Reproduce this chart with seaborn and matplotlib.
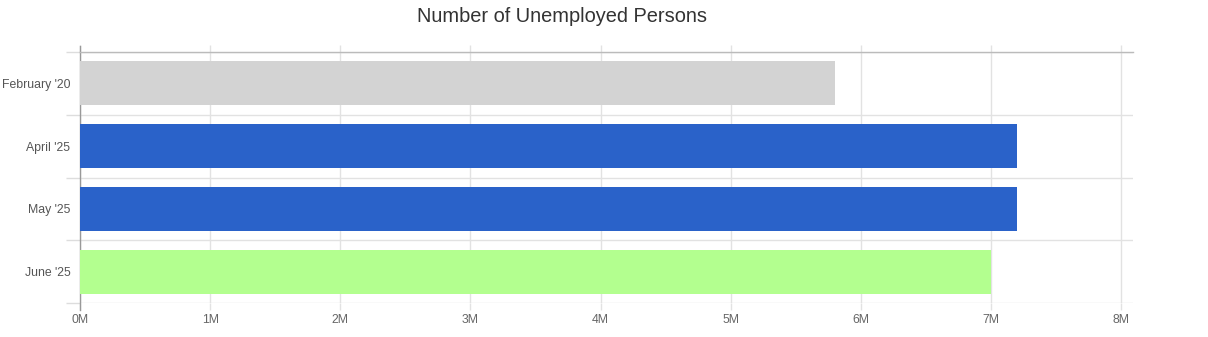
import matplotlib
matplotlib.use("Agg")
import matplotlib.pyplot as plt
import matplotlib.ticker as mticker
import seaborn as sns
import pandas as pd

categories = ["February '20", "April '25", "May '25", "June '25"]
unemployed = [5.80e6, 7.20e6, 7.20e6, 7.00e6]
bar_colors = ["#d3d3d3", "#2a62c9", "#2a62c9", "#b3ff8f"]
x_ticks = [0, 1e6, 2e6, 3e6, 4e6, 5e6, 6e6, 7e6, 8e6]

sns.set_theme(style="white")
plt.rcParams["font.family"] = ["Liberation Sans", "DejaVu Sans"]

df = pd.DataFrame({"period": categories, "value": unemployed})

fig = plt.figure(figsize=(12.08, 3.37), dpi=100)
ax = fig.add_axes([80 / 1208, 1 - 303 / 337, (1133 - 80) / 1208, (303 - 52) / 337])

sns.barplot(data=df, y="period", x="value", hue="period", order=categories,
            palette=dict(zip(categories, bar_colors)), width=0.70,
            legend=False, ax=ax, saturation=1, linewidth=0, zorder=3)

ax.set_xlim(0, 8.09e6)
ax.set_ylim(3.5, -0.5)
ax.set_xticks(x_ticks)
ax.xaxis.set_major_formatter(mticker.FuncFormatter(lambda v, p: f"{v/1e6:.0f}M"))
ax.set_yticks(range(len(categories)))
ax.set_yticklabels(categories)
ax.set_yticks([-0.5, 0.5, 1.5, 2.5, 3.5], minor=True)

ax.grid(True, axis="x", which="major", color="#e2e2e2", linewidth=1, zorder=0)
ax.grid(True, axis="y", which="minor", color="#e2e2e2", linewidth=1, zorder=0)
ax.grid(False, axis="y", which="major")

ax.tick_params(axis="x", which="major", top=True, bottom=True, direction="out",
               length=5, width=1, color="#e2e2e2", labelsize=8.8, labelcolor="#666666", pad=3)
ax.tick_params(axis="y", which="major", length=0, labelsize=8.8, labelcolor="#555555", pad=7)
ax.tick_params(axis="y", which="minor", left=True, direction="out",
               length=10, width=1, color="#dddddd")

for side in ["right", "bottom"]:
    ax.spines[side].set_visible(False)
ax.spines["top"].set_color("#bbbbbb")
ax.spines["left"].set_color("#999999")
ax.spines["top"].set_linewidth(1)
ax.spines["left"].set_linewidth(1)
ax.spines["left"].set_bounds(3.61, -0.6)

ax.set_xlabel("")
ax.set_ylabel("")

fig.text(0.465, 1 - 17 / 337, "Number of Unemployed Persons", ha="center", va="center",
         fontsize=14.4, color="#333333")

fig.savefig("out.png", dpi=100)
